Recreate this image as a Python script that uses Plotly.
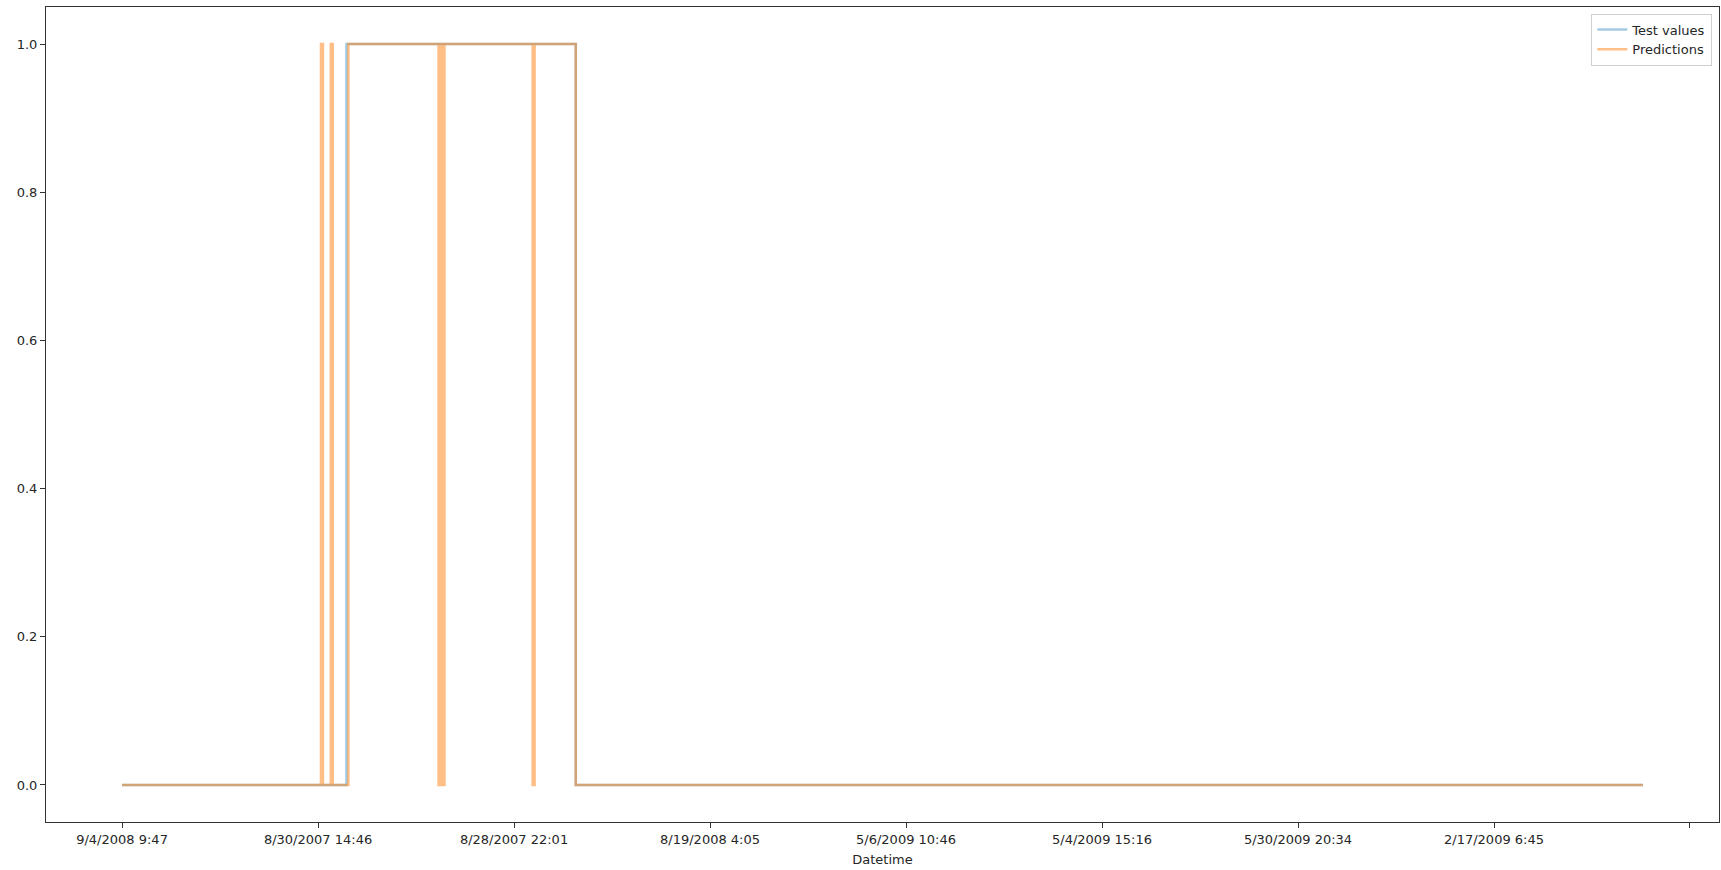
import plotly.graph_objects as go

# Number of samples in the test window (positional index along the x axis)
n_samples = 777

# Datetime labels shown at every 100th sample
tick_positions = [0, 100, 200, 300, 400, 500, 600, 700, 800]
tick_labels = ["9/4/2008 9:47", "8/30/2007 14:46", "8/28/2007 22:01",
               "8/19/2008 4:05", "5/6/2009 10:46", "5/4/2009 15:16",
               "5/30/2009 20:34", "2/17/2009 6:45", ""]

# Runs of samples (inclusive start, end) where the class equals 1; zero elsewhere
test_ones = [(115, 231)]
pred_ones = [(102, 102), (107, 107), (116, 161), (163, 163), (165, 209), (211, 231)]


def expand(runs, n):
    vals = [0] * n
    for a, b in runs:
        for i in range(a, b + 1):
            vals[i] = 1
    return vals


idx = list(range(n_samples))
test_values = expand(test_ones, n_samples)
predictions = expand(pred_ones, n_samples)

fig = go.Figure()
fig.add_trace(go.Scatter(x=idx, y=test_values, mode="lines", name="Test values",
                         line=dict(color="#1f77b4", width=2.5, shape="hvh"), opacity=0.4))
fig.add_trace(go.Scatter(x=idx, y=predictions, mode="lines", name="Predictions",
                         line=dict(color="#ff7f0e", width=2.5, shape="hvh"), opacity=0.5))

span = n_samples - 1
axis_common = dict(showline=True, linecolor="#333333", linewidth=1, mirror=True,
                   ticks="outside", ticklen=5, tickcolor="#333333", tickwidth=1,
                   showgrid=False, zeroline=False,
                   tickfont=dict(family="DejaVu Sans", size=13, color="#262626"))

fig.update_layout(
    width=1721, height=870,
    margin=dict(l=46, r=2, t=7, b=48),
    plot_bgcolor="white", paper_bgcolor="white",
    font=dict(family="DejaVu Sans", size=13, color="#262626"),
    xaxis=dict(range=[-0.05 * span, 1.05 * span], tickmode="array",
               tickvals=tick_positions, ticktext=tick_labels,
               title=dict(text="Datetime", standoff=9,
                          font=dict(family="DejaVu Sans", size=13, color="#262626")),
               **axis_common),
    yaxis=dict(range=[-0.05, 1.05], tickmode="array",
               tickvals=[0, 0.2, 0.4, 0.6, 0.8, 1.0],
               ticktext=["0.0", "0.2", "0.4", "0.6", "0.8", "1.0"],
               **axis_common),
    legend=dict(x=0.996, y=0.992, xanchor="right", yanchor="top",
                bgcolor="rgba(255,255,255,0.8)", bordercolor="#d0d0d0", borderwidth=1,
                font=dict(family="DejaVu Sans", size=13, color="#262626"),
                tracegroupgap=0, itemwidth=30),
    showlegend=True,
)

fig.write_html("out.html")
